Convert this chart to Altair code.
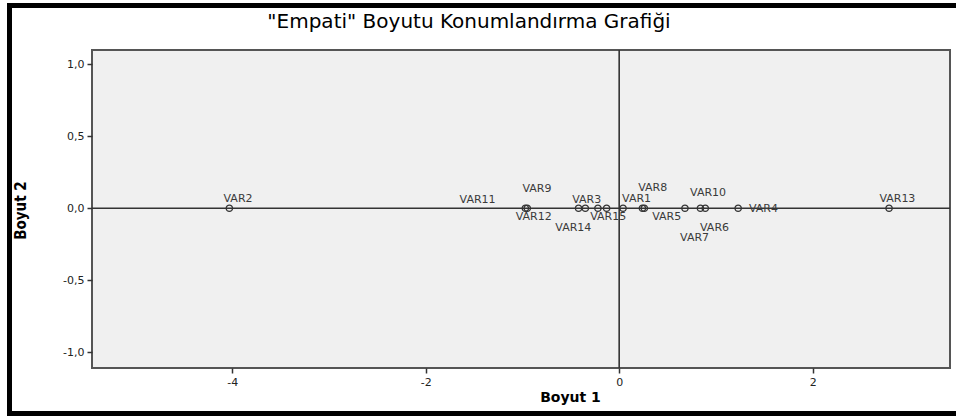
import altair as alt
import pandas as pd

names = ["VAR1", "VAR2", "VAR3", "VAR4", "VAR5", "VAR6", "VAR7", "VAR8",
         "VAR9", "VAR10", "VAR11", "VAR12", "VAR13", "VAR14", "VAR15"]
boyut1 = [0.04, -4.03, -0.42, 1.23, 0.24, 0.89, 0.68, 0.26,
          -0.35, 0.84, -0.97, -0.95, 2.79, -0.22, -0.13]
boyut2 = [0.0, 0.0, 0.0, 0.0, 0.0, 0.0, 0.0, 0.0,
          0.0, 0.0, 0.0, 0.0, 0.0, 0.0, 0.0]
# label anchor positions (data units), as placed in the original chart
label_x = [0.03, -4.09, -0.485, 1.342, 0.341, 0.836, 0.63, 0.196,
           -1.00, 0.733, -1.65, -1.07, 2.69, -0.66, -0.30]
label_y = [0.063, 0.063, 0.056, -0.007, -0.063, -0.139, -0.209, 0.139,
           0.132, 0.105, 0.056, -0.063, 0.063, -0.139, -0.063]

x_ticks = [-4, -2, 0, 2]
y_ticks = [-1.0, -0.5, 0.0, 0.5, 1.0]
x_domain = [-5.45, 3.42]
y_domain = [-1.11, 1.10]
title_text = '"Empati" Boyutu Konumlandırma Grafiği'

df = pd.DataFrame({"name": names, "b1": boyut1, "b2": boyut2,
                   "lx": label_x, "ly": label_y})

FONT = "DejaVu Sans"
label_expr_y = "(datum.value < 0 ? '-' : '') + replace(format(abs(datum.value), '.1f'), '.', ',')"
label_expr_x = "(datum.value < 0 ? '-' : '') + format(abs(datum.value), 'd')"

xs = alt.Scale(domain=x_domain, nice=False, zero=False)
ys = alt.Scale(domain=y_domain, nice=False, zero=False)

base = alt.Chart(df)

points = base.mark_point(shape="circle", filled=False, size=40,
                         stroke="#333333", strokeWidth=1.3, opacity=1).encode(
    x=alt.X("b1:Q", scale=xs,
            axis=alt.Axis(title="Boyut 1", values=x_ticks, labelExpr=label_expr_x,
                          grid=False, domain=False, tickColor="#333333",
                          tickSize=5, tickWidth=1.5, labelColor="#222222",
                          labelFont=FONT, labelFontSize=11, labelPadding=3,
                          titleFont=FONT, titleFontSize=14, titleFontWeight="bold",
                          titleColor="#000000", titleX=478, titleY=22)),
    y=alt.Y("b2:Q", scale=ys,
            axis=alt.Axis(title="Boyut 2", values=y_ticks, labelExpr=label_expr_y,
                          grid=False, domain=False, tickColor="#333333",
                          tickSize=5, tickWidth=1.5, labelColor="#222222",
                          labelFont=FONT, labelFontSize=11, labelPadding=3,
                          titleFont="Liberation Sans Narrow, DejaVu Sans Condensed, Liberation Sans",
                          titleFontSize=15, titleFontWeight="bold",
                          titleColor="#000000", titleX=-64, titleY=160)),
)

labels = base.mark_text(align="left", baseline="middle", font=FONT,
                        fontSize=11, color="#3a3a3a").encode(
    x=alt.X("lx:Q", scale=xs),
    y=alt.Y("ly:Q", scale=ys),
    text="name:N",
)

vline = alt.Chart(pd.DataFrame({"v": [0]})).mark_rule(
    color="#333333", strokeWidth=1.6).encode(x=alt.X("v:Q", scale=xs))
hline = alt.Chart(pd.DataFrame({"v": [0]})).mark_rule(
    color="#333333", strokeWidth=1.6).encode(y=alt.Y("v:Q", scale=ys))

title = alt.Chart(pd.DataFrame({"t": [title_text]})).mark_text(
    font=FONT, fontSize=20, color="#000000", align="center", baseline="middle").encode(
    text="t:N", x=alt.value(377), y=alt.value(-28))

# outer black frame of the picture
frame_top = alt.Chart(pd.DataFrame({"v": [0]})).mark_rect(color="black", clip=False).encode(
    x=alt.value(-85), x2=alt.value(864), y=alt.value(-47), y2=alt.value(-42))
frame_left = alt.Chart(pd.DataFrame({"v": [0]})).mark_rect(color="black", clip=False).encode(
    x=alt.value(-85), x2=alt.value(-80), y=alt.value(-47), y2=alt.value(366))
frame_bottom = alt.Chart(pd.DataFrame({"v": [0]})).mark_rect(color="black", clip=False).encode(
    x=alt.value(-85), x2=alt.value(864), y=alt.value(361), y2=alt.value(366))

chart = alt.layer(vline, hline, points, labels, title,
                  frame_top, frame_left, frame_bottom).properties(
    width=858, height=318,
    autosize=alt.AutoSizeParams(type="none"),
    padding={"left": 92, "top": 50, "right": 6, "bottom": 48},
    background="white",
).configure_view(fill="#f0f0f0", stroke="#555555", strokeWidth=2)

chart.save("out.html", embed_options={"renderer": "svg", "actions": False})
